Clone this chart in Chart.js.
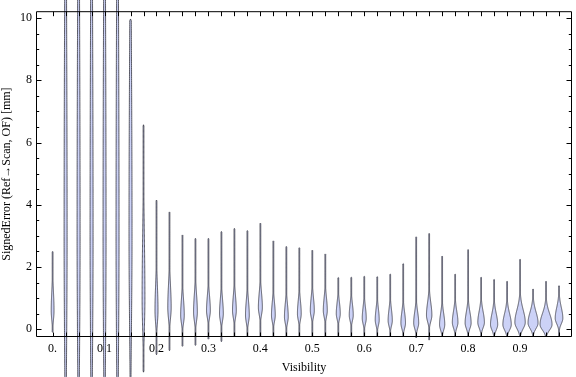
<!DOCTYPE html>
<html lang="en">
<head>
<meta charset="UTF-8">
<title>violin chart</title>
<script src="https://cdn.jsdelivr.net/npm/chart.js"></script>
<style>
  body { margin: 0; background: #fff; }
</style>
</head>
<body>
<div style="width: 576px; height: 377px;">
  <canvas id="myChart" width="576" height="377"></canvas>
</div>
<script>
// one violin per visibility bin
let visibility = [0, 0.025, 0.05, 0.075, 0.1, 0.125, 0.15, 0.175, 0.2, 0.225,
  0.25, 0.275, 0.3, 0.325, 0.35, 0.375, 0.4, 0.425, 0.45, 0.475,
  0.5, 0.525, 0.55, 0.575, 0.6, 0.625, 0.65, 0.675, 0.7, 0.725,
  0.75, 0.775, 0.8, 0.825, 0.85, 0.875, 0.9, 0.925, 0.95, 0.975];
// largest / smallest signed error in each bin [mm]
let maxErr = [2.5, 12, 12, 12, 12, 12, 9.97, 6.57, 4.15, 3.77,
  3.03, 2.92, 2.92, 3.14, 3.24, 3.17, 3.41, 2.84, 2.66, 2.62,
  2.54, 2.42, 1.66, 1.67, 1.70, 1.69, 1.77, 2.11, 2.97, 3.08,
  2.35, 1.77, 2.56, 1.67, 1.60, 1.54, 2.25, 1.29, 1.54, 1.40];
let minErr = [-0.1, -2, -2, -2, -2, -2, -2, -1.38, -0.82, -0.69,
  -0.55, -0.52, -0.32, -0.4, -0.22, -0.22, -0.22, -0.22, -0.22, -0.22,
  -0.22, -0.22, -0.22, -0.22, -0.22, -0.22, -0.22, -0.22, -0.28, -0.35,
  -0.22, -0.22, -0.22, -0.22, -0.22, -0.22, -0.22, -0.22, -0.22, -0.22];
// where the density peaks, how far it spreads, and how tall the peak is
let modeErr = [0.6, 3, 3, 3, 3, 3, 3, 1.0, 0.6, 0.7,
  0.45, 0.55, 0.6, 0.5, 0.6, 0.45, 0.7, 0.45, 0.4, 0.5,
  0.6, 0.6, 0.5, 0.45, 0.35, 0.3, 0.28, 0.2, 0.2, 0.45,
  0.15, 0.22, 0.2, 0.22, 0.15, 0.15, 0.22, 0.2, 0.15, 0.35];
let spread = [0.6, 8, 8, 8, 8, 8, 6, 2.0, 0.8, 0.7,
  0.5, 0.55, 0.45, 0.45, 0.45, 0.45, 0.45, 0.4, 0.4, 0.4,
  0.4, 0.4, 0.35, 0.35, 0.35, 0.35, 0.35, 0.35, 0.35, 0.4,
  0.35, 0.35, 0.35, 0.35, 0.35, 0.35, 0.4, 0.35, 0.35, 0.35];
let density = [0.7, 0.75, 0.75, 0.75, 0.75, 0.75, 0.75, 0.7, 0.75, 0.85,
  0.9, 0.95, 0.95, 0.95, 0.95, 0.95, 1.0, 0.95, 0.95, 0.95,
  1.0, 1.0, 1.0, 1.0, 1.0, 1.0, 1.05, 1.15, 1.25, 1.35,
  1.3, 1.4, 1.5, 1.65, 1.8, 2.1, 2.6, 2.5, 3.0, 1.9];

let xTickValues = [0, 0.1, 0.2, 0.3, 0.4, 0.5, 0.6, 0.7, 0.8, 0.9];
let xTickLabels = ['0.', '0.1', '0.2', '0.3', '0.4', '0.5', '0.6', '0.7', '0.8', '0.9'];
let yTickValues = [0, 2, 4, 6, 8, 10];

const serif = "'Liberation Serif', 'Times New Roman', serif";

const violinPlugin = {
  id: 'violins',
  afterDatasetsDraw(chart) {
    const ctx = chart.ctx;
    const xs = chart.scales.x, ys = chart.scales.y;
    ctx.save();
    for (let i = 0; i < visibility.length; i++) {
      let cx = xs.getPixelForValue(visibility[i]);
      let lo = minErr[i], hi = maxErr[i], m = modeErr[i];
      let sHi = spread[i], sLo = spread[i] * 0.5;
      let W = density[i] * 2; // half width in px
      let n = 200, pts = [];
      for (let k = 0; k <= n; k++) {
        let v = lo + (hi - lo) * k / n;
        let s = v < m ? sLo : sHi;
        let g = Math.exp(-0.5 * Math.pow((v - m) / s, 2));
        let w = Math.max(W * g, 0.4);
        if (k == 0 || k == n) w = 0;
        pts.push([w, ys.getPixelForValue(v)]);
      }
      ctx.beginPath();
      pts.forEach((p, k) => k == 0 ? ctx.moveTo(cx + p[0], p[1]) : ctx.lineTo(cx + p[0], p[1]));
      for (let k = pts.length - 1; k >= 0; k--) ctx.lineTo(cx - pts[k][0], pts[k][1]);
      ctx.closePath();
      ctx.fillStyle = 'rgb(204, 210, 247)';
      ctx.fill();
      ctx.strokeStyle = 'rgba(45, 45, 55, 0.85)';
      ctx.lineWidth = 0.9;
      ctx.stroke();
    }
    ctx.restore();
  }
};

const framePlugin = {
  id: 'frame',
  afterDraw(chart) {
    const ctx = chart.ctx, a = chart.chartArea;
    const xs = chart.scales.x, ys = chart.scales.y;
    let L = a.left + 0.5, R = a.right - 0.5, T = a.top + 0.5, B = a.bottom - 0.5;
    ctx.save();
    ctx.strokeStyle = '#000';
    ctx.lineWidth = 1;
    ctx.beginPath();
    ctx.rect(L, T, R - L, B - T);
    // left / right ticks, majors every 2, minors every 0.5
    for (let v = 0; v <= 10.001; v += 0.5) {
      let py = Math.round(ys.getPixelForValue(v)) + 0.5;
      let len = (Math.abs(v / 2 - Math.round(v / 2)) < 1e-6) ? 5 : 2.7;
      ctx.moveTo(L, py); ctx.lineTo(L + len, py);
      ctx.moveTo(R, py); ctx.lineTo(R - len, py);
    }
    // top / bottom ticks at every violin
    visibility.forEach(v => {
      let px = Math.round(xs.getPixelForValue(v)) + 0.5;
      ctx.moveTo(px, T); ctx.lineTo(px, T + 4.5);
      ctx.moveTo(px, B); ctx.lineTo(px, B - 4);
    });
    ctx.stroke();
    ctx.restore();
  }
};

let ctx = document.getElementById('myChart');
let myChart = new Chart(ctx, {
  type: 'scatter',
  data: {
    datasets: [{
      label: 'max',
      data: visibility.map((v, i) => ({ x: v, y: maxErr[i] })),
      pointRadius: 0
    }]
  },
  options: {
    responsive: false,
    animation: false,
    layout: { padding: { top: 4, right: 4, left: 0, bottom: 0 } },
    plugins: { legend: { display: false }, tooltip: { enabled: false } },
    scales: {
      x: {
        type: 'linear',
        min: -0.032,
        max: 1.0,
        grid: { display: false, drawTicks: false },
        border: { display: false },
        afterBuildTicks: s => { s.ticks = xTickValues.map(v => ({ value: v })); },
        afterFit: s => { s.height = 40; },
        ticks: {
          autoSkip: false,
          maxRotation: 0,
          padding: 5,
          color: '#000',
          font: { family: serif, size: 12 },
          callback: (v) => xTickLabels[xTickValues.indexOf(v)]
        },
        title: {
          display: true,
          text: 'Visibility',
          color: '#000',
          font: { family: serif, size: 12 },
          padding: { top: 0, bottom: 2 }
        }
      },
      y: {
        type: 'linear',
        min: -0.25,
        max: 10.22,
        grid: { display: false, drawTicks: false },
        border: { display: false },
        afterBuildTicks: s => { s.ticks = yTickValues.map(v => ({ value: v })); },
        afterFit: s => { s.width = 36; },
        ticks: {
          padding: 4,
          color: '#000',
          font: { family: serif, size: 12 }
        },
        title: {
          display: true,
          text: 'SignedError (Ref\u2192Scan, OF) [mm]',
          color: '#000',
          font: { family: serif, size: 12 },
          padding: { top: 0, bottom: 0 }
        }
      }
    }
  },
  plugins: [violinPlugin, framePlugin]
});
</script>
</body>
</html>
